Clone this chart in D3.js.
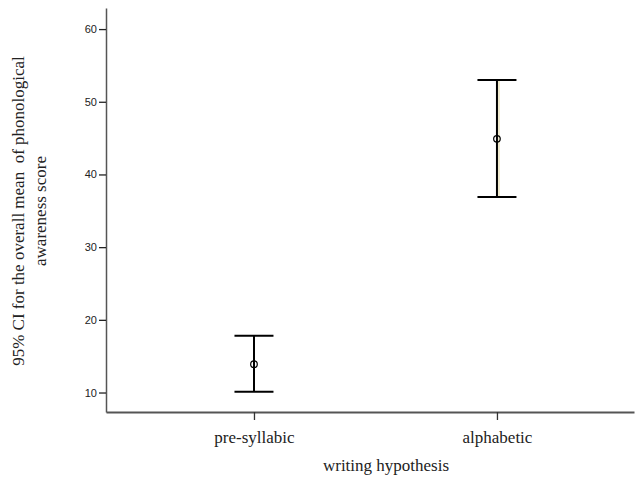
<!DOCTYPE html>
<html>
<head>
<meta charset="utf-8">
<script src="https://cdnjs.cloudflare.com/ajax/libs/d3/7.8.5/d3.min.js"></script>
<style>
  body { margin: 0; background: #fff; }
  svg { display: block; }
</style>
</head>
<body>
<svg id="chart" width="635" height="479"></svg>
<script>
'use strict';

// data
var categories = ['pre-syllabic', 'alphabetic'];
var means = [13.9, 44.9];
var lower = [10.1, 36.9];
var upper = [17.8, 53.0];
var yTicks = [10, 20, 30, 40, 50, 60];

var svg = d3.select('#chart');

var x = d3.scaleLinear().domain([0.391, 2.564]).range([106, 634]);
var y = d3.scaleLinear().domain([7.32, 62.9]).range([412, 8]);

var axisColor = '#555';
var serif = '"Liberation Serif", "Times New Roman", serif';

// y axis
var yAxis = svg.append('g')
    .attr('transform', 'translate(106,0)')
    .call(d3.axisLeft(y).tickValues(yTicks).tickSize(7).tickPadding(2).tickSizeOuter(0));
yAxis.select('.domain').attr('stroke', axisColor).attr('stroke-width', 1.5);
yAxis.selectAll('.tick line').attr('stroke', '#222').attr('stroke-width', 1.3);
yAxis.selectAll('.tick text')
    .attr('fill', '#222')
    .style('font-family', '"Liberation Sans", Arial, sans-serif')
    .style('font-size', '11px');

// x axis
var xAxis = svg.append('g')
    .attr('transform', 'translate(0,412)')
    .call(d3.axisBottom(x).tickValues([1, 2])
        .tickFormat(function (d) { return categories[d - 1]; })
        .tickSize(8).tickPadding(11).tickSizeOuter(0));
xAxis.select('.domain').attr('stroke', axisColor).attr('stroke-width', 2);
xAxis.selectAll('.tick line').attr('stroke', '#333').attr('stroke-width', 1.3);
xAxis.selectAll('.tick text')
    .attr('fill', '#222')
    .style('font-family', serif)
    .style('font-size', '17px');

// axis titles
svg.append('text')
    .attr('x', 386).attr('y', 471)
    .attr('text-anchor', 'middle')
    .attr('fill', '#222')
    .style('font-family', serif)
    .style('font-size', '17px')
    .text('writing hypothesis');

var yTitle = svg.append('text')
    .attr('transform', 'translate(24,211) rotate(-90)')
    .attr('text-anchor', 'middle')
    .attr('fill', '#222')
    .style('font-family', serif)
    .style('font-size', '17px');
yTitle.append('tspan').attr('x', 0).attr('dy', 0).attr('xml:space', 'preserve')
    .text('95% CI for the overall mean  of phonological');
yTitle.append('tspan').attr('x', 0).attr('dy', 22).text('awareness score');

// error bars
var bars = svg.append('g').selectAll('g')
    .data(categories)
    .join('g');

var capHalf = 19.5;

// faint beige shadow seen beside the second whisker
bars.filter(function (d, i) { return i === 1; })
    .append('line')
    .attr('x1', x(2) + 2)
    .attr('x2', x(2) + 2)
    .attr('y1', y(upper[1]))
    .attr('y2', y(lower[1]))
    .attr('stroke', '#e6ddb0')
    .attr('stroke-width', 1.2);

bars.append('line')
    .attr('x1', function (d, i) { return x(i + 1); })
    .attr('x2', function (d, i) { return x(i + 1); })
    .attr('y1', function (d, i) { return y(upper[i]); })
    .attr('y2', function (d, i) { return y(lower[i]); })
    .attr('stroke', '#000').attr('stroke-width', 2);

bars.append('line')
    .attr('x1', function (d, i) { return x(i + 1) - capHalf; })
    .attr('x2', function (d, i) { return x(i + 1) + capHalf; })
    .attr('y1', function (d, i) { return y(upper[i]); })
    .attr('y2', function (d, i) { return y(upper[i]); })
    .attr('stroke', '#000').attr('stroke-width', 2);

bars.append('line')
    .attr('x1', function (d, i) { return x(i + 1) - capHalf; })
    .attr('x2', function (d, i) { return x(i + 1) + capHalf; })
    .attr('y1', function (d, i) { return y(lower[i]); })
    .attr('y2', function (d, i) { return y(lower[i]); })
    .attr('stroke', '#000').attr('stroke-width', 2);

bars.append('circle')
    .attr('cx', function (d, i) { return x(i + 1); })
    .attr('cy', function (d, i) { return y(means[i]); })
    .attr('r', 3.3)
    .attr('fill', 'none')
    .attr('stroke', '#000')
    .attr('stroke-width', 1.2);
</script>
</body>
</html>
